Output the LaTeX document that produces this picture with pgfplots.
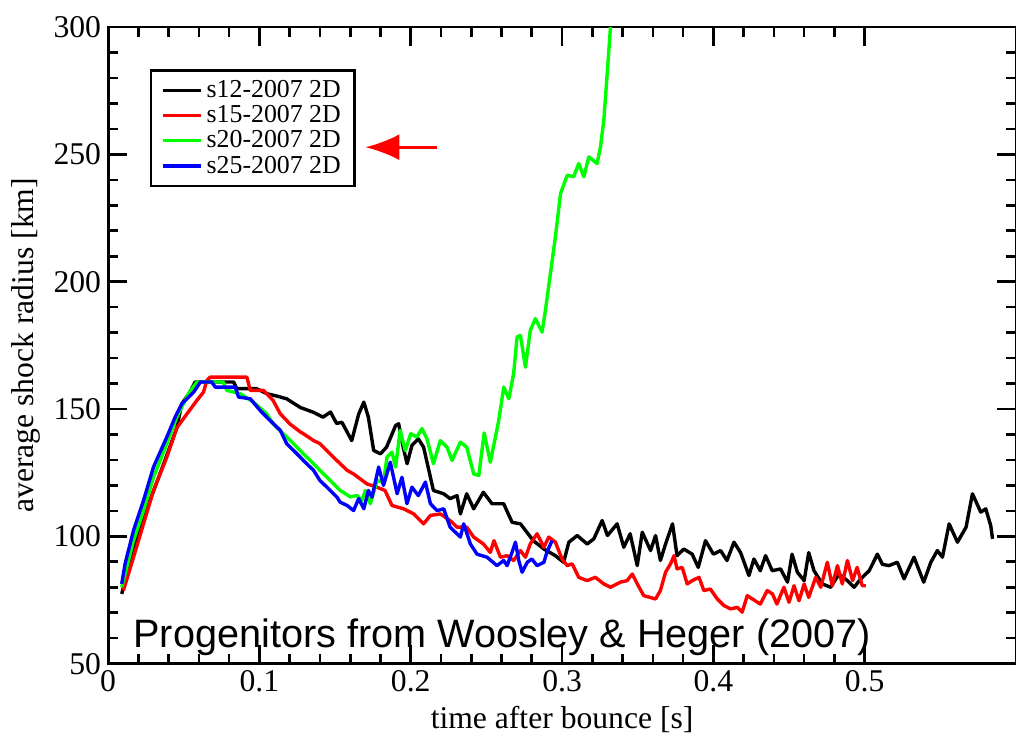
\documentclass[border=0pt]{standalone}
\usepackage{fontspec}
\setmainfont{Liberation Serif}
\newfontfamily\arial{Liberation Sans}
\usepackage{pgfplots}
\pgfplotsset{compat=1.18}
\usetikzlibrary{arrows.meta}
\definecolor{grn}{RGB}{0,255,0}
\definecolor{rd}{RGB}{255,0,0}
\definecolor{bl}{RGB}{0,0,255}
\begin{document}
\begin{tikzpicture}
\begin{axis}[
  scale only axis, width=453.5pt, height=318pt,
  xmin=0, xmax=0.6, ymin=50, ymax=300,
  xtick={0,0.1,0.2,0.3,0.4,0.5},
  ytick={50,100,150,200,250,300},
  minor x tick num=4, minor y tick num=4,
  tick align=inside,
  major tick length=9.5pt, minor tick length=5pt,
  axis line style={line width=1.4pt},
  every tick/.style={black, line width=1.3pt},
  /pgf/number format/assume math mode=true,
  tick label style={font=\fontsize{15.8}{18}\selectfont},
  label style={font=\fontsize{15.8}{19}\selectfont},
  xlabel={time after bounce [s]},
  ylabel={average shock radius [km]},
  legend style={at={(rel axis cs:0.046,0.934)}, anchor=north west, draw=black, line width=1.3pt,
    font=\fontsize{12.9}{14}\selectfont, inner xsep=5pt, inner ysep=3pt, row sep=-1.5pt},
  legend cell align=left,
  legend image code/.code={\draw[#1, line width=1.7pt] (0pt,0pt) -- (19pt,0pt);},
  every axis plot/.append style={line width=1.7pt, line join=round},
]
\addplot[black] coordinates {
(0.009,77.4) (0.0168,95.7) (0.0234,107.5) (0.031,119.3) (0.0388,131.8) (0.0454,142.6)
(0.0487,152) (0.054,156.6) (0.0575,160.6) (0.083,160.6) (0.085,158) (0.098,158)
(0.105,156) (0.112,155) (0.118,154) (0.127,150.6) (0.1357,148.7) (0.142,146.8)
(0.147,148.8) (0.151,144.3) (0.1545,144.8) (0.161,137.6) (0.1656,148) (0.169,152.7)
(0.172,146.8) (0.1755,133.7) (0.18,132.4) (0.184,135) (0.19,143.5) (0.192,144.2)
(0.195,135) (0.1976,128.5) (0.2008,135.7) (0.205,138.3) (0.2085,135) (0.213,123.2)
(0.215,118) (0.2218,116.7) (0.226,114.8) (0.2306,116) (0.2328,108.8) (0.237,116.7)
(0.2416,110.8) (0.248,117.3) (0.2537,112.8) (0.2614,112.8) (0.267,105.5) (0.2725,104.9)
(0.281,98.3) (0.288,95) (0.2956,92.4) (0.301,89.8) (0.3045,97.7) (0.31,100.3)
(0.3166,97) (0.321,99) (0.3265,106.2) (0.33,100.3) (0.3364,104.9) (0.3408,95.7)
(0.345,101) (0.3497,88.5) (0.353,101.6) (0.3585,94.4) (0.3618,100.3) (0.365,90.5)
(0.3684,97) (0.373,104.9) (0.376,92.4) (0.3805,95) (0.386,93) (0.390,87.8)
(0.3948,98.3) (0.400,93) (0.4048,94.4) (0.409,90.5) (0.4136,97.7) (0.418,93.6)
(0.4235,84.6) (0.4268,91.1) (0.431,86.5) (0.4345,92.4) (0.4389,86.5) (0.4444,87.2)
(0.449,82) (0.452,93) (0.4555,85.9) (0.46,82.6) (0.463,93.6) (0.4665,86.5)
(0.472,81.3) (0.4775,80) (0.483,85.2) (0.4886,82.6) (0.493,80) (0.4974,83.3)
(0.503,86.5) (0.5084,93) (0.5117,89) (0.516,88.5) (0.5216,89.8) (0.526,83.3)
(0.5326,91.8) (0.539,82) (0.5437,89.8) (0.548,94.4) (0.5514,91.8) (0.5558,104.9)
(0.5613,97.7) (0.567,103.6) (0.5712,116.7) (0.5767,109.5) (0.58,110.8) (0.5833,104.2)
(0.5845,99)
};
\addlegendentry{s12-2007 2D}
\addplot[rd] coordinates {
(0.0101,78.7) (0.0168,91.8) (0.0234,104.9) (0.03,118) (0.0388,131.1) (0.0454,142.6)
(0.052,148) (0.0587,153.4) (0.063,156.6) (0.0653,161.2) (0.0675,162.5) (0.0917,162.5)
(0.094,157.3) (0.1027,157.3) (0.109,153.4) (0.1138,148.1) (0.118,145.5) (0.12,144.2)
(0.127,141) (0.129,140.3) (0.1358,137.6) (0.140,136.4) (0.149,131) (0.158,125.9)
(0.1622,124.5) (0.171,120.6) (0.1777,119.3) (0.183,118) (0.1876,112.1) (0.1953,110.8)
(0.202,108.8) (0.2085,104.9) (0.213,108.2) (0.2196,108.8) (0.226,106.2) (0.2306,103.6)
(0.237,103.6) (0.2416,99.7) (0.248,97) (0.2526,93.7) (0.255,98.3) (0.2593,91.8)
(0.2637,92.4) (0.268,90.5) (0.2725,94.4) (0.2758,91.8) (0.279,97) (0.2835,101)
(0.288,95.7) (0.2912,99.7) (0.2956,97.7) (0.300,91.1) (0.3034,88.5) (0.3067,89.2)
(0.311,83.9) (0.3166,82.6) (0.322,83.9) (0.3276,81.3) (0.332,80) (0.3386,82)
(0.343,82.6) (0.3464,85.2) (0.3497,81.3) (0.354,76.7) (0.3618,75.4) (0.365,78.7)
(0.3684,85.9) (0.3717,89.2) (0.374,92.4) (0.376,87.2) (0.3794,87.8) (0.3827,81.3)
(0.386,82.6) (0.3905,83.9) (0.3937,78.7) (0.398,79.3) (0.4026,75.4) (0.407,72.8)
(0.4114,71.5) (0.4158,72.1) (0.419,70.2) (0.4224,76.7) (0.4268,75) (0.431,73.4)
(0.4356,78.7) (0.439,77.4) (0.442,73.4) (0.4466,80) (0.45,74.1) (0.4533,80.6)
(0.4566,74.7) (0.46,81.3) (0.463,76) (0.4676,83.9) (0.471,80) (0.4753,89.8)
(0.4786,80.6) (0.482,88.5) (0.4852,81.3) (0.4886,90.5) (0.492,82.6) (0.495,87.8)
(0.4984,80.6) (0.5007,80.6)
};
\addlegendentry{s15-2007 2D}
\addplot[grn] coordinates {
(0.009,80) (0.0168,98.3) (0.0234,110.1) (0.03,123.2) (0.0388,136.4) (0.0454,146.8)
(0.053,156) (0.0587,160.6) (0.076,160.6) (0.0785,157.3) (0.0873,156) (0.096,152.7)
(0.105,148) (0.109,144.2) (0.118,139) (0.127,133.7) (0.129,132.4) (0.1358,128.5)
(0.140,125.9) (0.1446,123.2) (0.1512,119.3) (0.1534,118) (0.160,115.5) (0.1645,116)
(0.1677,114) (0.170,118) (0.1733,112.8) (0.1777,121.9) (0.182,121.3) (0.1843,131.1)
(0.1876,133) (0.19,127.2) (0.193,141.6) (0.1964,133.7) (0.200,140.3) (0.204,139)
(0.2074,142.3) (0.2107,138.3) (0.215,128.5) (0.2196,137.6) (0.224,135) (0.2273,129.8)
(0.2328,137) (0.237,135) (0.2416,124.5) (0.245,123.9) (0.2485,140.6) (0.2526,129.1)
(0.258,145) (0.2615,158.6) (0.2648,154) (0.268,163.9) (0.2703,178.3) (0.2725,178.9)
(0.2758,166.4) (0.279,180.9) (0.2824,185.5) (0.2868,180.2) (0.289,188.7) (0.2923,203.2)
(0.2956,217.6) (0.299,234.6) (0.3034,241.8) (0.3077,241.2) (0.311,246.4) (0.3144,241.2)
(0.3177,249) (0.3232,246.4) (0.3254,253) (0.3276,263.4) (0.33,283.1) (0.332,300)
(0.333,310)
};
\addlegendentry{s20-2007 2D}
\addplot[bl] coordinates {
(0.009,81.3) (0.0112,89.2) (0.0168,102.3) (0.0234,114.1) (0.03,127.2) (0.0388,139)
(0.0443,146.8) (0.0487,152) (0.0565,156.6) (0.061,160.6) (0.0685,160.6) (0.0708,158.6)
(0.084,158.6) (0.0862,154.7) (0.094,154) (0.1005,149.4) (0.107,145.5) (0.1138,141.6)
(0.118,136.4) (0.127,131.1) (0.129,129.8) (0.1358,125.9) (0.140,121.9) (0.1446,119.3)
(0.1512,115.4) (0.1534,113.4) (0.158,112.1) (0.1622,110.1) (0.1656,114.8) (0.169,110.8)
(0.172,118) (0.1744,115.4) (0.1788,127.2) (0.182,120) (0.1865,129.1) (0.191,116.7)
(0.1942,123.2) (0.1975,112.8) (0.2008,119.3) (0.205,116) (0.2097,121.3) (0.213,112.8)
(0.2174,110.1) (0.2218,110.8) (0.226,103.6) (0.2328,99.7) (0.235,104.9) (0.2394,97)
(0.2438,93) (0.2504,91.8) (0.257,88.5) (0.2614,90.5) (0.2637,88.5) (0.267,93.8)
(0.2692,97.7) (0.2714,90.5) (0.2736,85.9) (0.277,89.8) (0.280,91.1) (0.2835,88.5)
(0.288,89.8) (0.290,93.8) (0.2934,98.3)
};
\addlegendentry{s25-2007 2D}
\node[anchor=base west, font=\arial\fontsize{19.8}{22}\selectfont, inner sep=0pt]
  at (axis cs:0.0165,56.3) {Progenitors from Woosley \& Heger (2007)};
\draw[rd, line width=1.5pt, -{Latex[length=17pt,width=13pt]}]
  (axis cs:0.2176,252.8) -- (axis cs:0.170,252.8);
\end{axis}
\pgfresetboundingbox
\path ([xshift=-54pt,yshift=-36pt]current axis.south west) rectangle ([yshift=13.5pt]current axis.north east);
\end{tikzpicture}
\end{document}
